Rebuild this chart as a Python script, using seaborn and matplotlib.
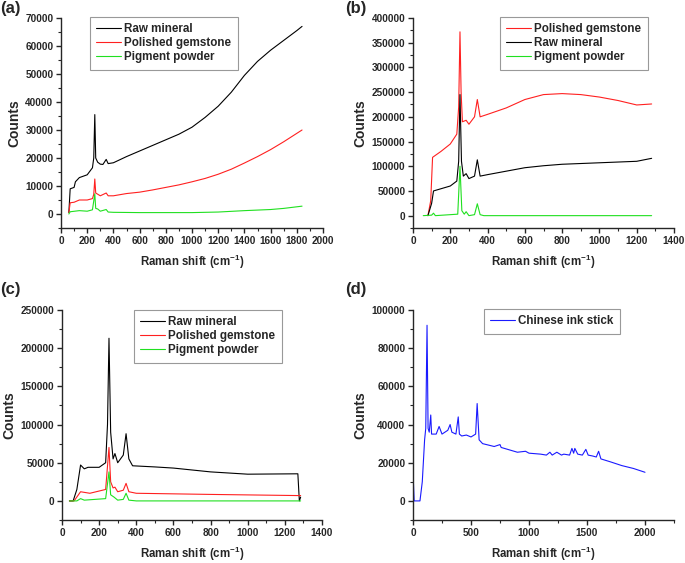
import matplotlib
matplotlib.use('Agg')
import matplotlib.pyplot as plt
import seaborn as sns
import pandas as pd
from matplotlib.ticker import MultipleLocator

sns.set_style('ticks')
plt.rcParams['font.family'] = ['Liberation Sans', 'DejaVu Sans']
plt.rcParams['font.weight'] = 'bold'
plt.rcParams['mathtext.default'] = 'regular'

# ---- panel (a) ----
a_raw_x = [60, 70, 100, 110, 140, 200, 240, 250, 258, 265, 280, 300, 320, 345, 360, 400, 500, 600, 700, 800,
           900, 1000, 1100, 1200, 1300, 1400, 1500, 1600, 1700, 1800, 1840]
a_raw_y = [500, 9000, 9500, 11500, 13000, 14000, 16500, 20000, 35500, 20000, 18500, 17800, 17700, 19500, 18000,
           18300, 20500, 22500, 24500, 26500, 28500, 31000, 34500, 38500, 43500, 49500, 54500, 58500, 62000,
           65500, 67000]
a_pol_x = [60, 70, 100, 140, 200, 240, 250, 258, 265, 300, 345, 360, 400, 500, 600, 700, 800, 900, 1000, 1100,
           1200, 1300, 1400, 1500, 1600, 1700, 1840]
a_pol_y = [500, 4000, 4200, 5000, 5000, 5500, 7000, 12500, 7500, 6500, 7500, 6500, 6500, 7300, 7800, 8600, 9500,
           10400, 11500, 12700, 14200, 16000, 18200, 20500, 23000, 25800, 30000]
a_pig_x = [60, 70, 140, 200, 240, 258, 265, 280, 300, 345, 360, 400, 600, 1000, 1200, 1400, 1600, 1700, 1840]
a_pig_y = [0, 800, 1200, 1000, 1500, 7200, 2000, 1800, 1000, 1600, 700, 600, 500, 500, 700, 1200, 1600, 2000, 2800]

# ---- panel (b) ----
b_pol_x = [80, 95, 105, 150, 200, 235, 245, 252, 258, 265, 285, 300, 330, 345, 360, 400, 500, 600, 700, 800,
           900, 1000, 1100, 1200, 1280]
b_pol_y = [0, 30000, 118000, 130000, 145000, 165000, 220000, 372000, 250000, 190000, 193000, 185000, 200000,
           235000, 200000, 205000, 218000, 235000, 245000, 247000, 245000, 240000, 233000, 224000, 226000]
b_raw_x = [80, 100, 110, 200, 235, 245, 252, 260, 270, 285, 300, 330, 345, 360, 400, 500, 600, 700, 800, 1000,
           1200, 1280]
b_raw_y = [0, 25000, 50000, 60000, 70000, 110000, 245000, 110000, 80000, 85000, 75000, 80000, 113000, 80000,
           83000, 90000, 97000, 101000, 104000, 107000, 110000, 116000]
b_pig_x = [55, 100, 110, 120, 240, 252, 262, 275, 285, 300, 330, 345, 360, 380, 1280]
b_pig_y = [0, 1000, 5000, 0, 3000, 100000, 10000, 3000, 8000, 0, 2000, 24000, 2000, 0, 0]

# ---- panel (c) ----
c_raw_x = [40, 60, 80, 100, 120, 140, 200, 235, 245, 253, 262, 275, 285, 300, 330, 345, 360, 380, 500, 600,
           700, 800, 1000, 1270, 1278, 1285]
c_raw_y = [0, 0, 15000, 47000, 42000, 44000, 44000, 50000, 100000, 213000, 90000, 55000, 62000, 50000, 60000,
           88000, 55000, 46000, 44500, 43000, 40500, 38000, 35000, 35500, 0, 5000]
c_pol_x = [40, 65, 100, 150, 235, 253, 262, 275, 285, 300, 330, 345, 360, 400, 800, 1270, 1285]
c_pol_y = [0, 0, 12000, 10000, 15000, 70000, 25000, 17000, 18000, 12000, 14000, 23000, 12000, 10000, 8500,
           7000, 7000]
c_pig_x = [40, 80, 100, 120, 235, 253, 262, 280, 300, 330, 345, 360, 400, 1285]
c_pig_y = [0, 0, 3000, 1000, 3000, 38000, 8000, 5000, 1000, 2000, 10000, 1000, 0, 0]

# ---- panel (d) ----
d_ink_x = [0, 10, 60, 80, 100, 110, 121, 130, 140, 153, 160, 200, 225, 250, 300, 320, 335, 370, 390, 400, 420,
           460, 500, 540, 553, 570, 600, 700, 750, 760, 900, 970, 1000, 1100, 1150, 1180, 1200, 1240, 1280,
           1300, 1350, 1370, 1385, 1395, 1420, 1460, 1490, 1510, 1550, 1580, 1600, 1620, 1700, 1800, 1900, 2000]
d_ink_y = [15000, 0, 0, 10000, 32000, 38000, 92000, 38000, 36000, 45000, 35000, 35000, 39000, 35000, 37000,
           40000, 36000, 35000, 44000, 35000, 34000, 34500, 33500, 35000, 51000, 32000, 30000, 28500, 29500,
           28000, 25500, 26000, 25000, 24500, 24000, 25500, 24000, 25500, 24000, 24500, 24000, 27500, 25000,
           27500, 24500, 24000, 27000, 24000, 23500, 23000, 26000, 22000, 20500, 18500, 17000, 15000]

BLACK = '#000000'
RED = '#ff2020'
GREEN = '#20e020'
BLUE = '#1a1aff'

W, H = 685, 563
fig = plt.figure(figsize=(W / 100, H / 100), dpi=100)


def make_ax(left, top, right, bottom):
    return fig.add_axes([left / W, 1 - bottom / H, (right - left) / W, (bottom - top) / H])


def style_ax(ax, xlim, ylim, xmaj, ymaj):
    ax.set_xlim(*xlim)
    ax.set_ylim(*ylim)
    ax.xaxis.set_major_locator(MultipleLocator(xmaj))
    ax.xaxis.set_minor_locator(MultipleLocator(xmaj / 2))
    ax.yaxis.set_major_locator(MultipleLocator(ymaj))
    ax.yaxis.set_minor_locator(MultipleLocator(ymaj / 2))
    sns.despine(ax=ax)
    for s in ['left', 'bottom']:
        ax.spines[s].set_linewidth(1.0)
    ax.tick_params(which='major', direction='out', length=3.5, width=1.0, labelsize=7.2, pad=2)
    ax.tick_params(which='minor', direction='out', length=2, width=0.8)
    for lab in ax.get_xticklabels() + ax.get_yticklabels():
        lab.set_fontweight('bold')
    ax.set_xlabel('Raman shift (cm$^{-1}$)', fontsize=8.3, fontweight='bold', labelpad=5)
    ax.set_ylabel('Counts', fontsize=10, fontweight='bold', labelpad=3)


def draw(ax, series, anchor):
    for xs, ys, color, label in series:
        df = pd.DataFrame({'x': xs, 'y': ys})
        sns.lineplot(data=df, x='x', y='y', ax=ax, color=color, lw=0.8, label=label,
                     estimator=None, sort=False)
    leg = ax.legend(loc='upper left', bbox_to_anchor=anchor, fontsize=8.4, frameon=True, fancybox=False,
                    edgecolor='#808080', handlelength=2.1, handletextpad=0.3, labelspacing=0.17,
                    borderpad=0.55, borderaxespad=0)
    leg.get_frame().set_linewidth(0.8)
    for t in leg.get_texts():
        t.set_fontweight('bold')


ax_a = make_ax(61, 18, 323, 228)
draw(ax_a, [(a_raw_x, a_raw_y, BLACK, 'Raw mineral'),
            (a_pol_x, a_pol_y, RED, 'Polished gemstone'),
            (a_pig_x, a_pig_y, GREEN, 'Pigment powder')], (0.111, 1.005))
style_ax(ax_a, (0, 2000), (-5000, 70000), 200, 10000)

ax_b = make_ax(413, 18, 674, 228)
draw(ax_b, [(b_pol_x, b_pol_y, RED, 'Polished gemstone'),
            (b_raw_x, b_raw_y, BLACK, 'Raw mineral'),
            (b_pig_x, b_pig_y, GREEN, 'Pigment powder')], (0.333, 1.005))
style_ax(ax_b, (0, 1400), (-25000, 400000), 200, 50000)

ax_c = make_ax(62, 310, 322, 520)
draw(ax_c, [(c_raw_x, c_raw_y, BLACK, 'Raw mineral'),
            (c_pol_x, c_pol_y, RED, 'Polished gemstone'),
            (c_pig_x, c_pig_y, GREEN, 'Pigment powder')], (0.277, 1.0))
style_ax(ax_c, (0, 1400), (-25000, 250000), 200, 50000)

ax_d = make_ax(413, 310, 674, 520)
draw(ax_d, [(d_ink_x, d_ink_y, BLUE, 'Chinese ink stick')], (0.272, 1.005))
style_ax(ax_d, (0, 2250), (-10000, 100000), 500, 20000)

for lab, x, y in [('(a)', 0, 1), ('(b)', 345, 1), ('(c)', 0, 282), ('(d)', 345, 282)]:
    fig.text(x / W, 1 - y / H, lab, fontsize=12, fontweight='bold', ha='left', va='top')

fig.savefig('out.png', dpi=100)
